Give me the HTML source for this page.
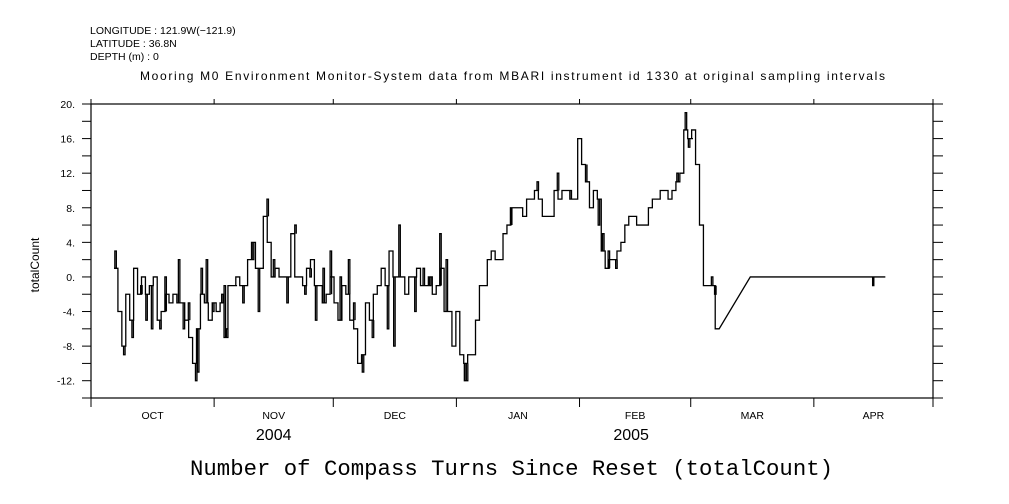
<!DOCTYPE html>
<html><head><meta charset="utf-8"><style>
body{margin:0;background:#fff;width:1009px;height:504px;overflow:hidden}
svg{display:block;font-family:"Liberation Sans",sans-serif}
</style></head><body>
<svg id="chart" width="1009" height="504" viewBox="0 0 1009 504">
<g font-size="10.5" fill="#000">
<text x="90" y="34">LONGITUDE : 121.9W(−121.9)</text>
<text x="90" y="47">LATITUDE : 36.8N</text>
<text x="90" y="60">DEPTH (m) : 0</text>
<text x="140" y="80" textLength="745" lengthAdjust="spacing" font-size="12">Mooring M0 Environment Monitor-System data from MBARI instrument id 1330 at original sampling intervals</text>
</g>
<text x="190" y="475" textLength="643" font-family="Liberation Mono, monospace" font-size="22.3">Number of Compass Turns Since Reset (totalCount)</text>
<text transform="translate(39,265) rotate(-90)" text-anchor="middle" font-size="12">totalCount</text>
<rect x="91" y="104" width="842" height="294" fill="none" stroke="#000" stroke-width="1.2"/>
<g id="axes"></g>
<path id="series" fill="none" stroke="#000" stroke-width="1.3"/>
</svg>
<script>
const yTicks=[20,16,12,8,4,0,-4,-8,-12];
const monthStarts=[0,31,61,92,123,151,182,212];
const monthLabels=['OCT','NOV','DEC','JAN','FEB','MAR','APR'];
const yearLabels=['2004','2005'];
const yearDays=[46,136];
const values=[1,-4,-8,-2,-5,1,-2,0,-2,-1,0,-5,-4,-2,-3,-2,-3,-3,-5,-7,-10,-6,-2,-3,-5,-3,-4,-3,-7,-1,-1,0,-1,-1,2,4,1,1,7,4,0,1,0,0,0,5,0,0,-1,1,2,-1,-1,-3,-2,0,-3,-5,-1,-2,-5,-6,-10,-9,-3,-5,-2,-1,1,-1,3,0,0,0,-2,0,0,1,-1,-1,0,-2,-1,1,-4,-4,-8,-4,-9,-10,-9,-9,-5,-1,-1,2,3,2,2,5,6,8,8,8,7,9,9,10,9,7,7,7,10,9,10,10,9,9,16,13,11,8,10,9,3,1,2,2,3,4,6,7,7,6,6,6,8,9,9,10,10,9,10,11,12,17,16,17,13,6,-1,-1,-1,-6];
const spikes=[3,-9,-7,-6,2,-3,2,-1,-12,-11,-11,-7,-12,9,6,6,-12,19,-2,-1,-6,0,-3,-6,1,-4,-1,-3,2,-4,0,-3,-5,1,3,0,2,-3,-1,-6,-8,-2,-4,1,-1,5,2,-1,-2,0,2,-4,-2,-6,-5,-3,11,12,10,8,11,6,5,3,1,12,15,16,-1,0];
const spikeDays=[6,8.2,10.3,17.3,22,24.5,29,33.5,26.3,26.8,68.3,70.8,94.5,44.3,51.3,77.5,94,149.6,157,12.5,15.2,18.6,20.4,23.2,27.7,30.6,36.4,38.2,40.6,42.1,47.5,49.3,56.5,58.4,60.2,62.7,64.8,66.1,72.4,74.6,76.2,79.3,81.5,83.6,85.2,87.8,89.4,35.2,53.8,55.1,45.9,31.8,32.9,34.1,13.8,19.9,112.3,117.4,120.6,105.6,124.5,127.7,128.8,130.2,132.1,147.5,150.4,151.2,155.3,156.2];
const tailDays=[158,166,196.5,196.8,197.1,200];
const tailValues=[-6,0,0,-1,0,0];
const X0=91,X1=933,Y0=104,Y1=398;
const xs=d=>X0+d*(X1-X0)/212;
const ys=v=>Y0+(20-v)*(Y1-Y0)/34;
const ns='http://www.w3.org/2000/svg';
const g=document.getElementById('axes');
function mk(tag,attrs){const e=document.createElementNS(ns,tag);for(const k in attrs)e.setAttribute(k,attrs[k]);g.appendChild(e);return e;}
for(let v=-14;v<=20;v+=2){
  const l=mk('line',{x1:82,x2:91,y1:ys(v),y2:ys(v),stroke:'#000'});
  
  
  const r=mk('line',{x1:933,x2:943,y1:ys(v),y2:ys(v),stroke:'#000'});
  
  
}
yTicks.forEach(v=>{
  const t=mk('text',{x:75,y:ys(v)+4,'text-anchor':'end','font-size':10.5});
  t.textContent=v+'.';
  
  
});
monthStarts.forEach(d=>{
  const l=mk('line',{x1:xs(d),x2:xs(d),y1:398,y2:407,stroke:'#000'});
  
  
  const t=mk('line',{x1:xs(d),x2:xs(d),y1:99,y2:104,stroke:'#000'});
  
  
});
monthLabels.forEach((m,i)=>{
  const t=mk('text',{x:(xs(monthStarts[i])+xs(monthStarts[i+1]))/2,y:419,'text-anchor':'middle','font-size':10.5});
  t.textContent=m;
  
  
});
yearLabels.forEach((y,i)=>{
  const t=mk('text',{x:xs(yearDays[i]),y:440,'text-anchor':'middle','font-size':16});
  t.textContent=y;
  
  
});
let d='';
values.forEach((v,i)=>{
  const t=(5.85+i)*0.9894;
  if(i===0)d+='M'+xs(t)+' '+ys(v);
  else d+='V'+ys(v);
  d+='H'+xs(t+0.9894);
});
tailDays.forEach((t,i)=>{
  if(i===0){d+='V'+ys(tailValues[i]);return;}
  if(t-tailDays[i-1]>2)d+='L'+xs(t)+' '+ys(tailValues[i]);
  else d+='H'+xs(t)+'V'+ys(tailValues[i]);
});
spikes.forEach((v,i)=>{
  const base=values[Math.min(values.length-1,Math.max(0,Math.floor(spikeDays[i]/0.9894-5.85)))];
  d+='M'+xs(spikeDays[i])+' '+ys(base)+'V'+ys(v)+'H'+(xs(spikeDays[i])+1.5)+'V'+ys(base);
});
document.getElementById('series').setAttribute('d',d);
</script>
</body></html>
